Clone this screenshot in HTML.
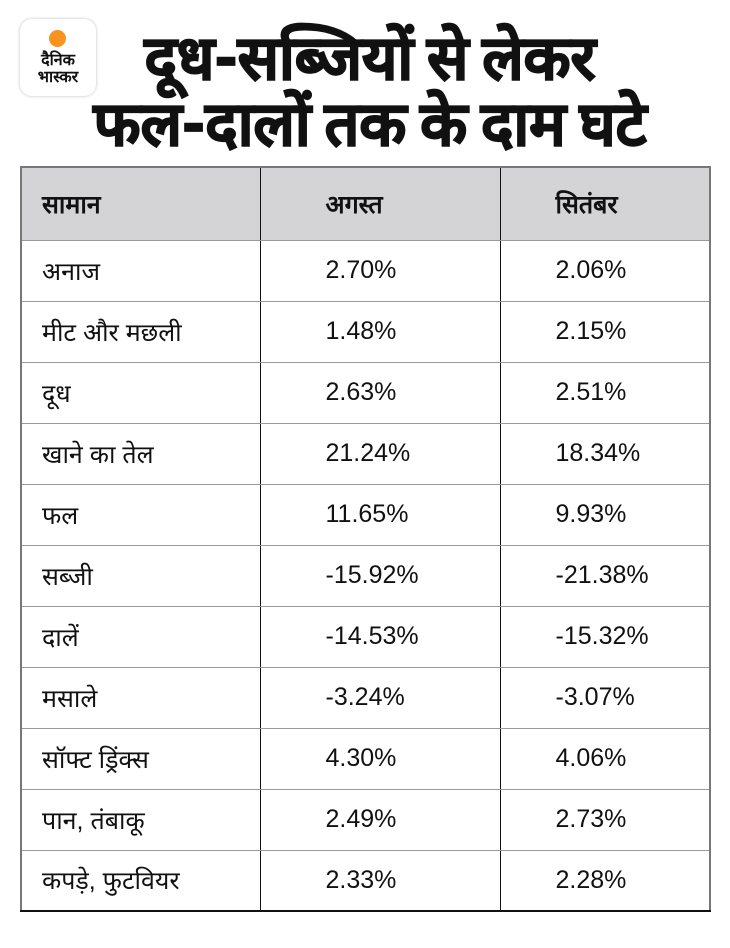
<!DOCTYPE html>
<html><head><meta charset="utf-8"><style>
body{margin:0;width:730px;height:948px;background:#fff;position:relative;overflow:hidden;font-family:"Liberation Sans","Noto Sans CJK SC",sans-serif;color:#111}
.logo{position:absolute;left:20px;top:19px;width:76px;height:77px;border-radius:12px;background:#fff;box-shadow:0 0 3px rgba(0,0,0,.25)}
.dot{position:absolute;left:49px;top:30px;width:17px;height:17px;border-radius:50%;background:#f7931e}
.lt{position:absolute;left:20px;width:76px;text-align:center;font-weight:bold;font-size:16px;line-height:16px;font-family:"Noto Sans CJK SC",sans-serif}
.title{position:absolute;left:30px;width:680px;text-align:center;font-weight:900;font-size:61px;line-height:66px;top:20px;font-family:"Noto Sans CJK SC","Liberation Sans",sans-serif;-webkit-text-stroke:1.5px #111}
table{position:absolute;left:20px;top:166px;width:691px;border-collapse:collapse;font-size:25px}
td{border:1px solid #999;height:61px;padding:0;vertical-align:middle}
td:nth-child(1){width:239px;padding-left:20px;box-sizing:border-box;border-right:1.5px solid #111}
td:nth-child(2){width:240px;padding-left:65px;box-sizing:border-box;border-right:1.5px solid #111}
td:nth-child(3){padding-left:55px;box-sizing:border-box}
tr.h td{background:#d4d4d6;height:73px;font-weight:bold}
table{border:2px solid #777;border-bottom:2px solid #111}
</style></head><body>
<div class="logo"></div><div class="dot"></div>
<div class="lt" style="top:50px">दैनिक</div><div class="lt" style="top:67px">भास्कर</div>
<div class="title">दूध-सब्जियों से लेकर<br>फल-दालों तक के दाम घटे</div>
<table>
<tr class="h"><td>सामान</td><td>अगस्त</td><td>सितंबर</td></tr>
<tr><td>अनाज</td><td>2.70%</td><td>2.06%</td></tr>
<tr><td>मीट और मछली</td><td>1.48%</td><td>2.15%</td></tr>
<tr><td>दूध</td><td>2.63%</td><td>2.51%</td></tr>
<tr><td>खाने का तेल</td><td>21.24%</td><td>18.34%</td></tr>
<tr><td>फल</td><td>11.65%</td><td>9.93%</td></tr>
<tr><td>सब्जी</td><td>-15.92%</td><td>-21.38%</td></tr>
<tr><td>दालें</td><td>-14.53%</td><td>-15.32%</td></tr>
<tr><td>मसाले</td><td>-3.24%</td><td>-3.07%</td></tr>
<tr><td>सॉफ्ट ड्रिंक्स</td><td>4.30%</td><td>4.06%</td></tr>
<tr><td>पान, तंबाकू</td><td>2.49%</td><td>2.73%</td></tr>
<tr><td>कपड़े, फुटवियर</td><td>2.33%</td><td>2.28%</td></tr>
</table>
</body></html>
